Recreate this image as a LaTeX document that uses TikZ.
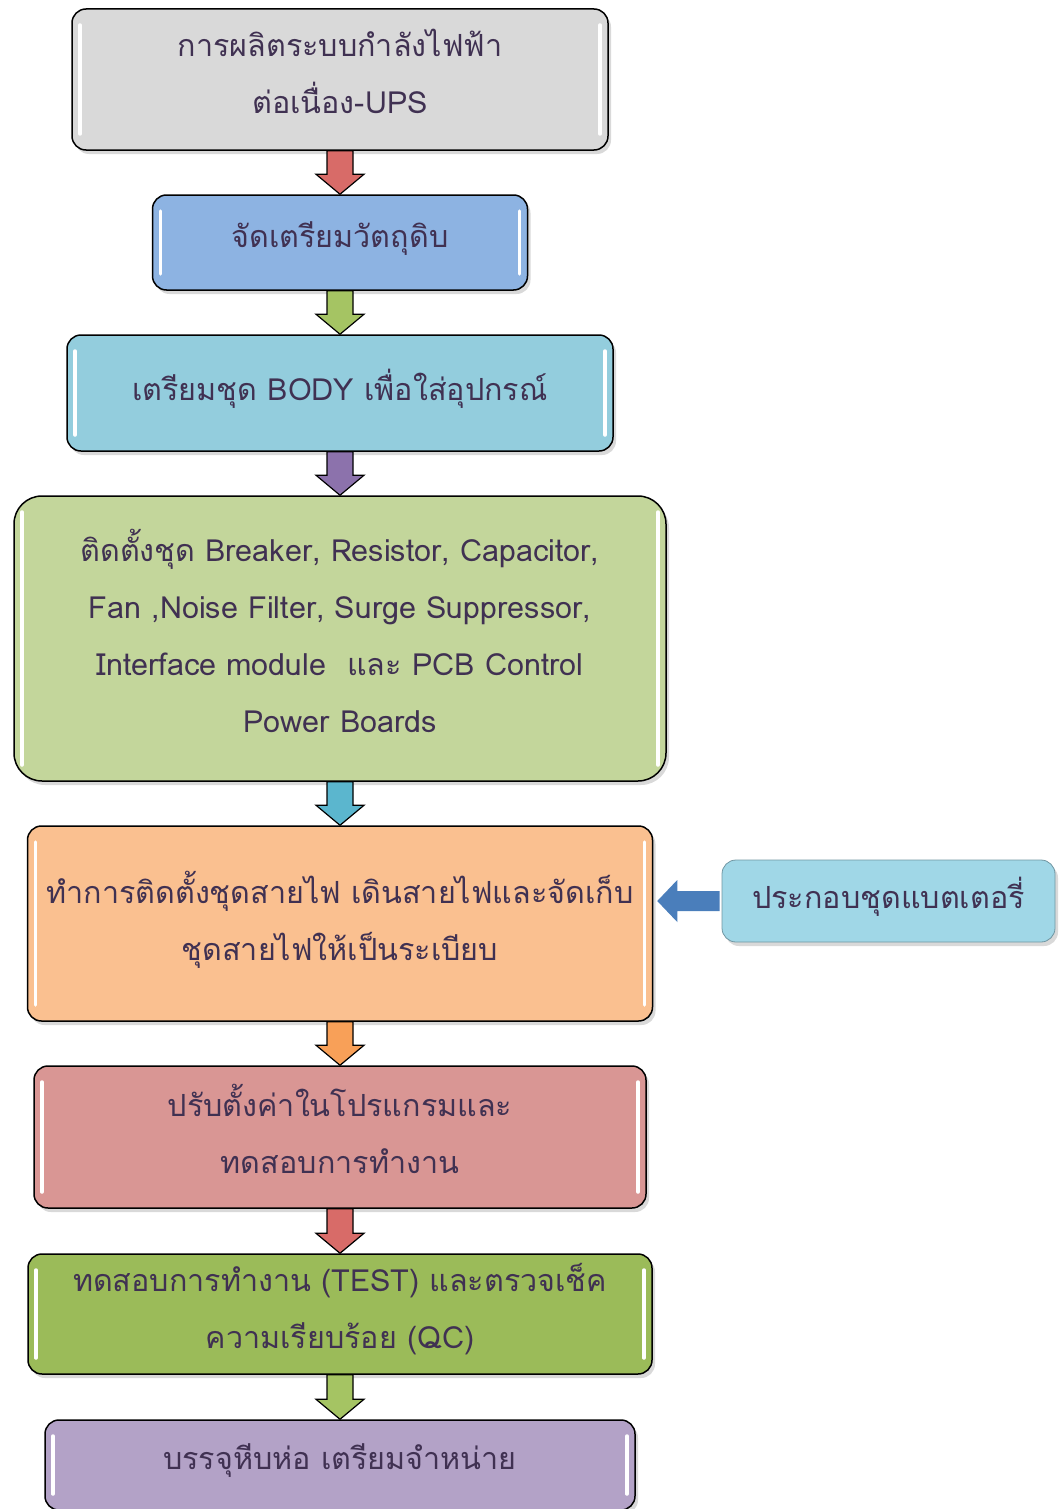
\documentclass[tikz,border=0pt]{standalone}
\usepackage{fontspec}
\setmainfont[Script=Thai]{Loma}
\usetikzlibrary{calc,shadows}

\definecolor{txt}{HTML}{403152}
\definecolor{boxgray}{HTML}{D9D9D9}
\definecolor{boxblue}{HTML}{8DB3E2}
\definecolor{boxcyan}{HTML}{93CDDD}
\definecolor{boxgreen}{HTML}{C3D69B}
\definecolor{boxorange}{HTML}{FAC090}
\definecolor{boxred}{HTML}{D99694}
\definecolor{boxolive}{HTML}{9BBB59}
\definecolor{boxpurple}{HTML}{B3A2C7}
\definecolor{boxside}{HTML}{A0D7E7}
\definecolor{arrred}{HTML}{D86B68}
\definecolor{arrgreen}{HTML}{A5C463}
\definecolor{arrpurple}{HTML}{8C72AC}
\definecolor{arrcyan}{HTML}{5BB6CE}
\definecolor{arrorange}{HTML}{F8A058}
\definecolor{arrblue}{HTML}{4A7EBB}

\tikzset{
 stepbox/.style={draw=black,line width=1.5pt,rounded corners=14pt,
  text=txt,align=center,font=\fontsize{30.5}{57}\selectfont,text depth=16pt,
  drop shadow={shadow xshift=3pt,shadow yshift=-4pt,opacity=.3},
  path picture={
   \draw[white,line width=3.5pt,line cap=round]
    ([xshift=8pt,yshift=-16pt]path picture bounding box.north west) --
    ([xshift=8pt,yshift=16pt]path picture bounding box.south west);
   \draw[white,line width=3.5pt,line cap=round]
    ([xshift=-8pt,yshift=-16pt]path picture bounding box.north east) --
    ([xshift=-8pt,yshift=16pt]path picture bounding box.south east);
  }},
 flowarr/.style={draw=black,line width=1.2pt,line join=miter}
}

% fat arrow from box #1 down to box #2
\newcommand{\flowdown}[3]{%
 \draw[flowarr,fill=#3] ($(#1.south)+(-13,0)$) -- ($(#1.south)+(13,0)$)
  -- ($(#2.north)+(13,-20)$) -- ($(#2.north)+(24,-20)$) -- (#2.north)
  -- ($(#2.north)+(-24,-20)$) -- ($(#2.north)+(-13,-20)$) -- cycle;}

\begin{document}
\begin{tikzpicture}[x=1pt,y=-1pt]
\useasboundingbox (0,0) rectangle (1064,1509);

\node[stepbox,fill=boxgray,minimum width=536pt,minimum height=141pt] (ups) at (340,79.5)
 {การผลิตระบบกำลังไฟฟ้า\\ต่อเนื่อง-UPS};
\node[stepbox,fill=boxblue,minimum width=375pt,minimum height=95pt] (raw) at (340,242.5)
 {จัดเตรียมวัตถุดิบ};
\node[stepbox,fill=boxcyan,minimum width=546pt,minimum height=116pt] (body) at (340,393)
 {เตรียมชุด BODY เพื่อใส่อุปกรณ์};
\node[stepbox,fill=boxgreen,minimum width=652pt,minimum height=285pt,rounded corners=28pt] (parts) at (340,638.5)
 {ติดตั้งชุด Breaker, Resistor, Capacitor,\\Fan ,Noise Filter, Surge Suppressor,\\Interface module \ และ PCB Control\\Power Boards};
\node[stepbox,fill=boxorange,minimum width=625pt,minimum height=195pt] (wire) at (340,923.5)
 {ทำการติดตั้งชุดสายไฟ เดินสายไฟและจัดเก็บ\\ชุดสายไฟให้เป็นระเบียบ};
\node[stepbox,fill=boxred,minimum width=612pt,minimum height=142pt] (prog) at (340,1137)
 {ปรับตั้งค่าในโปรแกรมและ\\ทดสอบการทำงาน};
\node[stepbox,fill=boxolive,minimum width=624pt,minimum height=120pt] (test) at (340,1314)
 {ทดสอบการทำงาน (TEST) และตรวจเช็ค\\ความเรียบร้อย (QC)};
\node[stepbox,fill=boxpurple,minimum width=590pt,minimum height=90pt] (pack) at (340,1465)
 {บรรจุหีบห่อ เตรียมจำหน่าย};

%side step
\node[stepbox,draw=boxside!70!black,line width=0.8pt,fill=boxside,minimum width=333pt,minimum height=82pt,path picture={}] (batt) at (888.5,901)
 {ประกอบชุดแบตเตอรี่};

\flowdown{ups}{raw}{arrred}
\flowdown{raw}{body}{arrgreen}
\flowdown{body}{parts}{arrpurple}
\flowdown{parts}{wire}{arrcyan}
\flowdown{wire}{prog}{arrorange}
\flowdown{prog}{test}{arrred}
\flowdown{test}{pack}{arrgreen}

%battery into wiring
\fill[arrblue] ($(batt.west)+(-2,-10)$) -- ($(wire.east |- batt.west)+(24,-10)$)
 -- ($(wire.east |- batt.west)+(24,-21)$) -- ($(wire.east |- batt.west)+(4,0)$)
 -- ($(wire.east |- batt.west)+(24,21)$) -- ($(wire.east |- batt.west)+(24,10)$)
 -- ($(batt.west)+(-2,10)$) -- cycle;

\end{tikzpicture}
\end{document}
